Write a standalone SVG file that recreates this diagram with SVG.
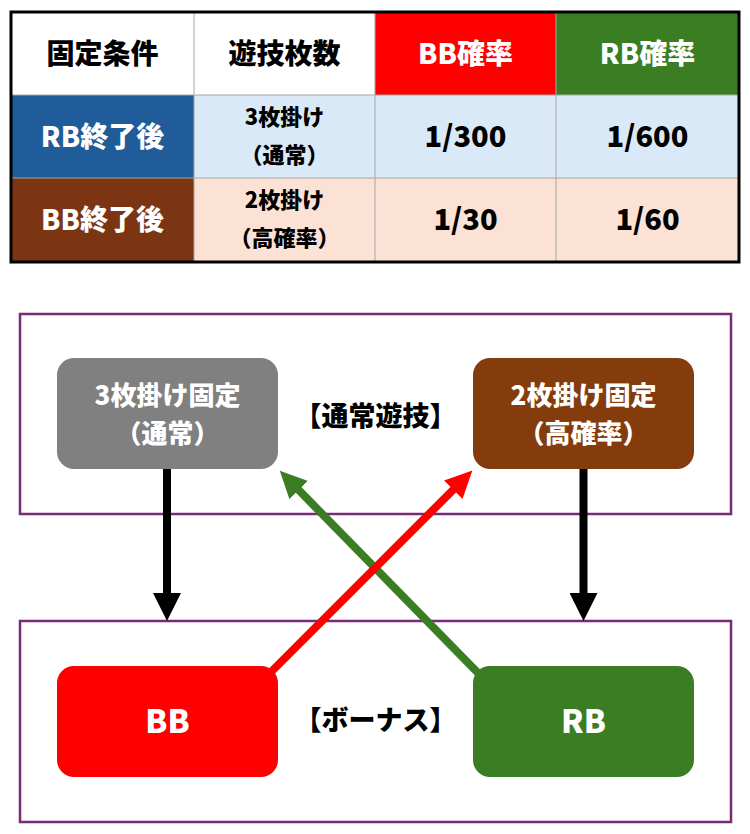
<svg xmlns="http://www.w3.org/2000/svg" width="750" height="834" viewBox="0 0 750 834">
<defs>
<style>
text{font-family:"Noto Sans CJK JP","Noto Sans",sans-serif;font-weight:900;text-anchor:middle}
.hd{font-size:28px}
.val{font-size:29px;fill:#000}
.sm{font-size:22px;fill:#000}
.w{fill:#fff}
.k{fill:#000}
.grid{stroke:#a6a6a6;stroke-width:1;fill:none}
.frame{fill:none;stroke:#7a2a78;stroke-width:2.5}
.nl{font-size:27px}
.nb{font-size:26px}
.big{font-size:32px}
.conn{fill:none;stroke-width:8}
</style>
<marker id="mk" viewBox="0 0 28 28" refX="1" refY="14" markerWidth="28" markerHeight="28" markerUnits="userSpaceOnUse" orient="auto"><path d="M0,0 L28,14 L0,28 Z" fill="#000"/></marker>
<marker id="mg" viewBox="0 0 27 26" refX="1" refY="13" markerWidth="27" markerHeight="26" markerUnits="userSpaceOnUse" orient="auto"><path d="M0,0 L27,13 L0,26 Z" fill="#3b7d23"/></marker>
<marker id="mr" viewBox="0 0 27 26" refX="1" refY="13" markerWidth="27" markerHeight="26" markerUnits="userSpaceOnUse" orient="auto"><path d="M0,0 L27,13 L0,26 Z" fill="#ff0000"/></marker>
</defs>
<rect width="750" height="834" fill="#fff"/>

<g id="table">
<rect x="11" y="12" width="183" height="83" fill="#fff"/>
<rect x="194" y="12" width="181" height="83" fill="#fff"/>
<rect x="375" y="12" width="181" height="83" fill="#ff0000"/>
<rect x="556" y="12" width="183" height="83" fill="#3b7d23"/>
<rect x="11" y="95" width="183" height="83" fill="#1f5c99"/>
<rect x="194" y="95" width="545" height="83" fill="#dae9f7"/>
<rect x="11" y="178" width="183" height="84" fill="#7b3512"/>
<rect x="194" y="178" width="545" height="84" fill="#fbe2d5"/>
<path class="grid" d="M194,12V262M375,12V262M556,12V262M11,95H739M11,178H739"/>
<rect x="11" y="12" width="728" height="250" fill="none" stroke="#000" stroke-width="3"/>
<text class="hd k" x="102.5" y="64">固定条件</text>
<text class="hd k" x="284.5" y="64">遊技枚数</text>
<text class="hd w" x="465.5" y="64">BB確率</text>
<text class="hd w" x="647.5" y="64">RB確率</text>
<text class="hd w" x="102.5" y="147">RB終了後</text>
<text class="sm" x="284.5" y="125">3枚掛け</text>
<text class="sm" x="284.5" y="163">（通常）</text>
<text class="val" x="465.5" y="147">1/300</text>
<text class="val" x="647.5" y="147">1/600</text>
<text class="hd w" x="102.5" y="230">BB終了後</text>
<text class="sm" x="284.5" y="208">2枚掛け</text>
<text class="sm" x="284.5" y="246">（高確率）</text>
<text class="val" x="465.5" y="230">1/30</text>
<text class="val" x="647.5" y="230">1/60</text>
</g>

<g id="frame-normal">
<rect class="frame" x="20" y="314" width="711" height="200"/>
<text class="nl k" x="375.5" y="426">【通常遊技】</text>
</g>
<g id="frame-bonus">
<rect class="frame" x="20" y="621" width="711" height="201"/>
<text class="nl k" x="375.5" y="730">【ボーナス】</text>
</g>

<g id="connectors">
<line class="conn" x1="167" y1="469" x2="167" y2="594" stroke="#000" marker-end="url(#mk)"/>
<line class="conn" x1="583.5" y1="469" x2="583.5" y2="594" stroke="#000" marker-end="url(#mk)"/>
<line class="conn" x1="480" y1="675" x2="298" y2="489.3" stroke="#3b7d23" marker-end="url(#mg)"/>
<line class="conn" x1="268" y1="675" x2="454" y2="489" stroke="#ff0000" marker-end="url(#mr)"/>
</g>

<g id="node-3mai">
<rect x="57" y="358" width="221" height="111" rx="17" fill="#808080"/>
<text class="nb w" x="167.5" y="405">3枚掛け固定</text>
<text class="nb w" x="167.5" y="443">（通常）</text>
</g>
<g id="node-2mai">
<rect x="473" y="358" width="221" height="111" rx="17" fill="#843c0c"/>
<text class="nb w" x="583.5" y="405">2枚掛け固定</text>
<text class="nb w" x="583.5" y="443">（高確率）</text>
</g>
<g id="node-bb">
<rect x="57" y="666" width="221" height="111" rx="17" fill="#ff0000"/>
<text class="big w" x="167.5" y="733">BB</text>
</g>
<g id="node-rb">
<rect x="473" y="666" width="221" height="111" rx="17" fill="#3b7d23"/>
<text class="big w" x="583.5" y="733">RB</text>
</g>
</svg>
